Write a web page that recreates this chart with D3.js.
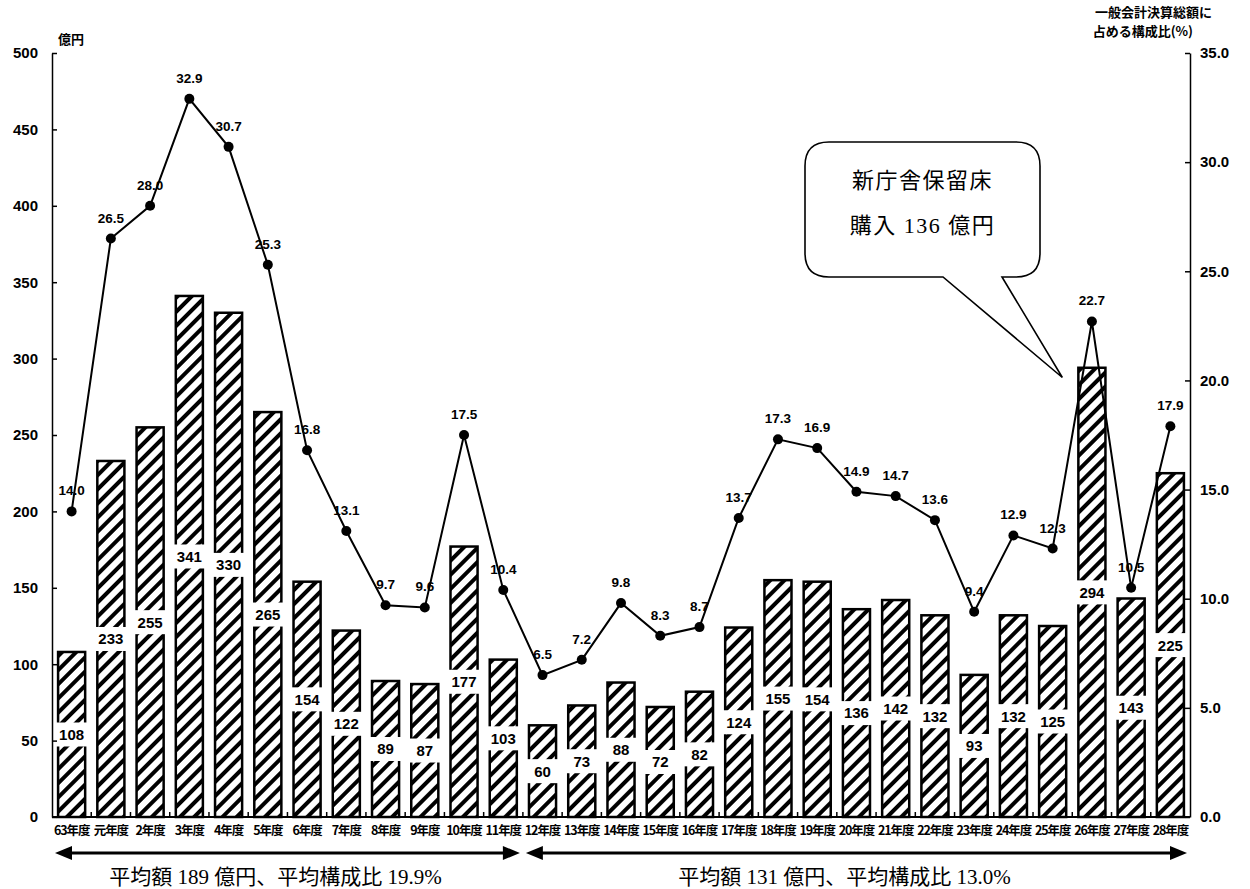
<!DOCTYPE html>
<html>
<head>
<meta charset="utf-8">
<script src="https://d3js.org/d3.v7.min.js"></script>
<style>
  html, body { margin: 0; padding: 0; background: #fff; }
  svg { display: block; }
</style>
</head>
<body>
<svg id="chart" width="1250" height="889"></svg>
<script>
const categories = ['63年度','元年度','2年度','3年度','4年度','5年度','6年度','7年度','8年度','9年度','10年度','11年度','12年度','13年度','14年度','15年度','16年度','17年度','18年度','19年度','20年度','21年度','22年度','23年度','24年度','25年度','26年度','27年度','28年度'];
const amounts = [108,233,255,341,330,265,154,122,89,87,177,103,60,73,88,72,82,124,155,154,136,142,132,93,132,125,294,143,225];
const ratios = [14.0,26.5,28.0,32.9,30.7,25.3,16.8,13.1,9.7,9.6,17.5,10.4,6.5,7.2,9.8,8.3,8.7,13.7,17.3,16.9,14.9,14.7,13.6,9.4,12.9,12.3,22.7,10.5,17.9];
const leftTicks = [0,50,100,150,200,250,300,350,400,450,500];
const rightTicks = [0,5,10,15,20,25,30,35];
const leftTitle = '億円';
const rightTitle = ['一般会計決算総額に','占める構成比(%)'];
const calloutLines = ['新庁舎保留床','購入 136 億円'];
const periods = [
  {from: '63年度', to: '11年度', text: '平均額 189 億円、平均構成比 19.9%'},
  {from: '12年度', to: '28年度', text: '平均額 131 億円、平均構成比 13.0%'}
];
const calloutTarget = {cat: '26年度', value: 22.7};

(function () {
const svg = d3.select('#chart');
const pLeft = 52, pRight = 1190, pTop = 53, pBottom = 817;
const numFont = '"Liberation Sans", Arial, sans-serif';
const jpFont = '"Noto Sans CJK JP", sans-serif';
const serifFont = '"Liberation Serif", "Noto Sans CJK JP", serif';

const x = d3.scaleBand().domain(categories).range([pLeft, pRight]).paddingInner(0.31).paddingOuter(0.155);
const yL = d3.scaleLinear().domain([0, 500]).range([pBottom, pTop]);
const yR = d3.scaleLinear().domain([0, 35]).range([pBottom, pTop]);

// hatch pattern
const defs = svg.append('defs');
const pat = defs.append('pattern').attr('id', 'hatch').attr('patternUnits', 'userSpaceOnUse')
  .attr('width', 10).attr('height', 10).attr('patternTransform', 'rotate(45)');
pat.append('rect').attr('width', 10).attr('height', 10).attr('fill', '#fff');
pat.append('line').attr('x1', 5).attr('y1', 0).attr('x2', 5).attr('y2', 10)
  .attr('stroke', '#000').attr('stroke-width', 4);

// bars
svg.append('g').selectAll('rect').data(amounts).join('rect')
  .attr('x', (d, i) => x(categories[i]))
  .attr('y', d => yL(d))
  .attr('width', x.bandwidth())
  .attr('height', d => yL(0) - yL(d))
  .attr('fill', 'url(#hatch)')
  .attr('stroke', '#000').attr('stroke-width', 2.5);

// bar value labels
const bl = svg.append('g');
amounts.forEach((d, i) => {
  const cx = x(categories[i]) + x.bandwidth() / 2;
  const cy = yL(d / 2);
  bl.append('rect').attr('x', cx - 17).attr('y', cy - 12).attr('width', 34).attr('height', 24).attr('fill', '#fff');
  bl.append('text').attr('x', cx).attr('y', cy).attr('dy', '0.36em').attr('text-anchor', 'middle')
    .attr('font-family', numFont).attr('font-weight', 'bold').attr('font-size', 15).text(d);
});

// x baseline with band ticks
const xa = svg.append('g');
xa.append('line').attr('x1', pLeft).attr('x2', pRight).attr('y1', pBottom).attr('y2', pBottom)
  .attr('stroke', '#000').attr('stroke-width', 2);
categories.forEach((c, i) => {
  if (i > 0) {
    const bx = x(c) - x.step() * x.paddingInner() / 2;
    xa.append('line').attr('x1', bx).attr('x2', bx).attr('y1', pBottom).attr('y2', pBottom - 5)
      .attr('stroke', '#000').attr('stroke-width', 1.5);
  }
  xa.append('text').attr('x', x(c) + x.bandwidth() / 2).attr('y', 835).attr('text-anchor', 'middle')
    .attr('font-family', jpFont).attr('font-weight', 'bold').attr('font-size', 12.5)
    .attr('letter-spacing', '-1.1').text(c);
});

// left axis
const la = svg.append('g').attr('transform', `translate(${pLeft},0)`)
  .call(d3.axisLeft(yL).tickValues(leftTicks).tickSizeInner(-5).tickSizeOuter(0).tickPadding(14));
la.select('.domain').attr('stroke-width', 1.5);
la.selectAll('.tick line').attr('stroke-width', 1.5);
la.selectAll('text').attr('font-family', numFont).attr('font-weight', 'bold').attr('font-size', 15).attr('fill', '#000');

// right axis
const ra = svg.append('g').attr('transform', `translate(${pRight},0)`)
  .call(d3.axisRight(yR).tickValues(rightTicks).tickSizeInner(-5).tickSizeOuter(0).tickPadding(10).tickFormat(d3.format('.1f')));
ra.select('.domain').attr('stroke-width', 1.5);
ra.selectAll('.tick line').attr('stroke-width', 1.5);
ra.selectAll('text').attr('font-family', numFont).attr('font-weight', 'bold').attr('font-size', 15).attr('fill', '#000');

// axis titles
svg.append('text').attr('x', 58).attr('y', 44).attr('font-family', jpFont).attr('font-weight', 'bold')
  .attr('font-size', 13).text(leftTitle);
rightTitle.forEach((t, i) => {
  svg.append('text').attr('x', i === 0 ? 1212 : 1193).attr('y', 17 + i * 19).attr('text-anchor', 'end')
    .attr('font-family', jpFont).attr('font-weight', 'bold').attr('font-size', 13).text(t);
});

// ratio line
const cx = (i) => x(categories[i]) + x.bandwidth() / 2;
const line = d3.line().x((d, i) => cx(i)).y(d => yR(d));
svg.append('path').datum(ratios).attr('d', line).attr('fill', 'none')
  .attr('stroke', '#000').attr('stroke-width', 2);
svg.append('g').selectAll('circle').data(ratios).join('circle')
  .attr('cx', (d, i) => cx(i)).attr('cy', d => yR(d)).attr('r', 5).attr('fill', '#000');
svg.append('g').selectAll('text').data(ratios).join('text')
  .attr('x', (d, i) => cx(i)).attr('y', d => yR(d) - 16).attr('text-anchor', 'middle')
  .attr('font-family', numFont).attr('font-weight', 'bold').attr('font-size', 13.5)
  .text(d => d3.format('.1f')(d));

// callout
const bx0 = 805, bx1 = 1040, by0 = 142, by1 = 277, r = 24;
const tip = [x(calloutTarget.cat) - 16, yR(calloutTarget.value) + 56];
const t0 = 943, t1 = 1002;
const cp = d3.path();
cp.moveTo(bx0 + r, by0);
cp.lineTo(bx1 - r, by0);
cp.quadraticCurveTo(bx1, by0, bx1, by0 + r);
cp.lineTo(bx1, by1 - r);
cp.quadraticCurveTo(bx1, by1, bx1 - r, by1);
cp.lineTo(t1, by1);
cp.lineTo(tip[0], tip[1]);
cp.lineTo(t0, by1);
cp.lineTo(bx0 + r, by1);
cp.quadraticCurveTo(bx0, by1, bx0, by1 - r);
cp.lineTo(bx0, by0 + r);
cp.quadraticCurveTo(bx0, by0, bx0 + r, by0);
cp.closePath();
svg.append('path').attr('d', cp.toString()).attr('fill', '#fff').attr('stroke', '#000').attr('stroke-width', 1.6);
calloutLines.forEach((t, i) => {
  svg.append('text').attr('x', (bx0 + bx1) / 2).attr('y', 188 + i * 45).attr('text-anchor', 'middle')
    .attr('font-family', serifFont).attr('font-size', 22).attr('letter-spacing', '1.5').text(t);
});

// period arrows
const ay = 853;
const ag = svg.append('g');
periods.forEach(p => {
  const xs = x(p.from) - x.step() * x.paddingOuter() + 3;
  const xe = x(p.to) + x.bandwidth() + x.step() * x.paddingOuter() - 3;
  ag.append('line').attr('x1', xs + 12).attr('x2', xe - 12).attr('y1', ay).attr('y2', ay)
    .attr('stroke', '#000').attr('stroke-width', 3);
  ag.append('path').attr('d', `M${xs},${ay} L${xs + 17},${ay - 7} L${xs + 17},${ay + 7} Z`).attr('fill', '#000');
  ag.append('path').attr('d', `M${xe},${ay} L${xe - 17},${ay - 7} L${xe - 17},${ay + 7} Z`).attr('fill', '#000');
  ag.append('text').attr('x', (xs + xe) / 2 - 12).attr('y', 884).attr('text-anchor', 'middle')
    .attr('font-family', serifFont).attr('font-size', 21).text(p.text);
});
})();
</script>
</body>
</html>
